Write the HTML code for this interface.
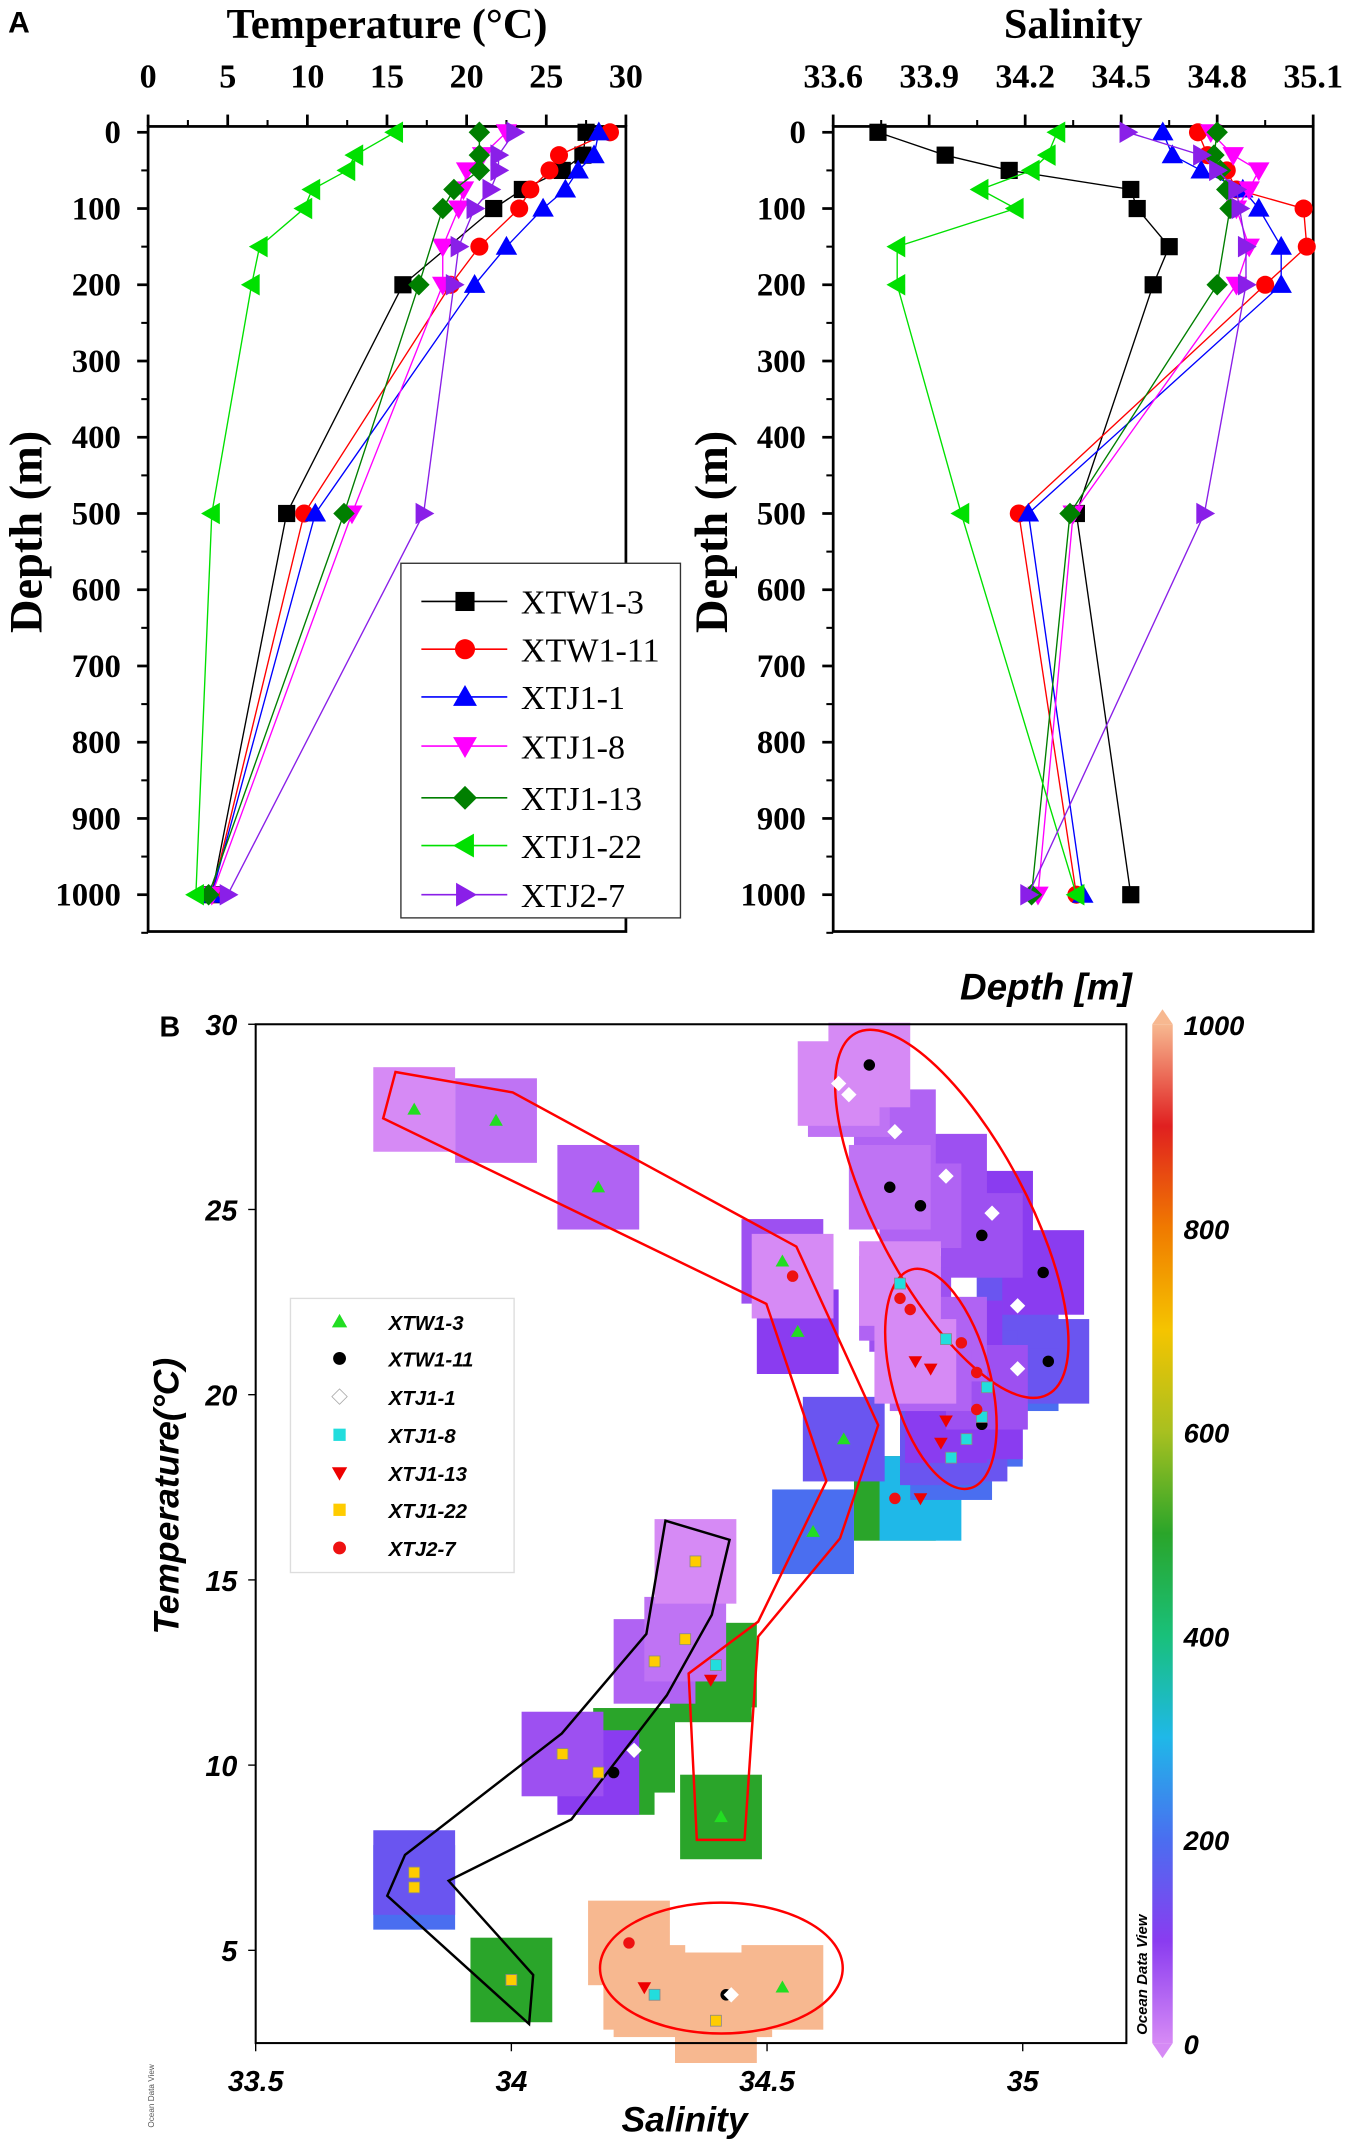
<!DOCTYPE html>
<html><head><meta charset="utf-8"><style>
html,body{margin:0;padding:0;background:#fff}
svg{display:block}
.serif{font-family:"Liberation Serif",serif;font-weight:bold}
.sans{font-family:"Liberation Sans",sans-serif;font-weight:bold;font-style:italic}
</style></head><body>
<svg id="fig" width="1350" height="2144" viewBox="0 0 990 1572" preserveAspectRatio="none" xmlns="http://www.w3.org/2000/svg">
<g id="pA"></g>
<g id="pB"></g>
</svg>
<script>
const depths=[0,30,50,75,100,150,200,500,1000];
const stations=["XTW1-3","XTW1-11","XTJ1-1","XTJ1-8","XTJ1-13","XTJ1-22","XTJ2-7"];
const tempXTW13=[27.5,27.3,26,23.5,21.7,null,16,8.7,4];
const tempXTW111=[29,25.8,25.2,24,23.3,20.8,19,9.8,4];
const tempXTJ11=[28.3,28,27,26.2,24.8,22.5,20.5,10.5,4];
const tempXTJ18=[22.5,21,20,19.8,19.5,18.5,18.5,12.8,4];
const tempXTJ113=[20.8,20.8,20.8,19.2,18.5,null,17,12.3,3.8];
const tempXTJ122=[15.5,13,12.5,10.3,9.8,7,6.5,4,3];
const tempXTJ27=[23,22,22,21.5,20.5,19.5,19.2,17.3,5];
const salXTW13=[33.74,33.95,34.15,34.53,34.55,34.65,34.6,34.36,34.53];
const salXTW111=[34.74,34.77,34.83,34.86,35.07,35.08,34.95,34.18,34.36];
const salXTJ11=[34.63,34.66,34.75,34.88,34.93,35.0,35.0,34.21,34.38];
const salXTJ18=[34.78,34.85,34.93,34.9,34.86,34.9,34.86,34.35,34.24];
const salXTJ113=[34.8,34.79,34.81,34.83,34.84,null,34.8,34.34,34.22];
const salXTJ122=[34.3,34.27,34.22,34.06,34.17,33.8,33.8,34.0,34.36];
const salXTJ27=[34.52,34.75,34.8,34.86,34.87,34.89,34.89,34.76,34.21];
const tempTicks=[0,5,10,15,20,25,30];
const salTicks=[33.6,33.9,34.2,34.5,34.8,35.1];
const depthTicks=[0,100,200,300,400,500,600,700,800,900,1000];

// Panel B T-S data
const tsSalXTW13=[33.81,33.97,34.17,34.53,34.56,34.65,34.59,34.41,34.53];
const tsTempXTW13=[27.7,27.4,25.6,23.6,21.7,18.8,16.3,8.6,4.0];
const tsDepXTW13=[0,30,50,75,100,150,200,500,1000];
const tsSalXTW111=[34.70,34.74,34.80,34.92,35.04,35.05,34.92,34.20,34.42];
const tsTempXTW111=[28.9,25.6,25.1,24.3,23.3,20.9,19.2,9.8,3.8];
const tsDepXTW111=[0,30,50,75,100,150,200,500,1000];
const tsSalXTJ11=[34.64,34.66,34.75,34.85,34.94,34.99,34.99,34.24,34.43];
const tsTempXTJ11=[28.4,28.1,27.1,25.9,24.9,22.4,20.7,10.4,3.8];
const tsDepXTJ11=[0,30,50,75,100,150,200,500,1000];
const tsSalXTJ18=[34.76,34.85,34.93,34.92,34.89,34.86,34.40,34.28];
const tsTempXTJ18=[23.0,21.5,20.2,19.4,18.8,18.3,12.7,3.8];
const tsDepXTJ18=[0,50,75,100,150,200,500,1000];
const tsSalXTJ113=[34.79,34.82,34.85,34.84,34.80,34.39,34.26];
const tsTempXTJ113=[20.9,20.7,19.3,18.7,17.2,12.3,4.0];
const tsDepXTJ113=[0,50,100,150,300,500,1000];
const tsSalXTJ122=[34.36,34.34,34.28,34.10,34.17,33.81,33.81,34.0,34.40];
const tsTempXTJ122=[15.5,13.4,12.8,10.3,9.8,7.1,6.7,4.2,3.1];
const tsDepXTJ122=[0,30,50,75,100,150,200,500,1000];
const tsSalXTJ27=[34.55,34.76,34.78,34.88,34.91,34.91,34.75,34.23];
const tsTempXTJ27=[23.2,22.6,22.3,21.4,20.6,19.6,17.2,5.2];
const tsDepXTJ27=[0,50,75,100,150,200,500,1000];
const bSalTicks=[33.5,34,34.5,35];
const bTempTicks=[5,10,15,20,25,30];
const cbTicks=[0,200,400,600,800,1000];

const NS="http://www.w3.org/2000/svg";
function mk(tag,attrs,parent,name){const e=document.createElementNS(NS,tag);for(const k in attrs)e.setAttribute(k,attrs[k]);


parent.appendChild(e);return e;}
function txt(s,x,y,attrs,parent,name){const e=mk('text',Object.assign({x:x,y:y},attrs),parent,name);e.textContent=s;return e;}

const A=document.getElementById('pA');
const colors=['#000000','#ff0000','#0000ff','#ff00ff','#007f00','#00e000','#8a1fe8'];
const shapes=['square','circle','up','down','diamond','left','right'];
function marker(shape,cx,cy,r,fill,parent,name,stroke){
  let e;
  if(shape==='square')e=mk('rect',{x:cx-r,y:cy-r,width:2*r,height:2*r,fill:fill},parent,name);
  else if(shape==='circle')e=mk('circle',{cx:cx,cy:cy,r:r*1.05,fill:fill},parent,name);
  else{let p;const R=r*1.25;
    if(shape==='up')p=[[cx,cy-R],[cx+R,cy+R*0.75],[cx-R,cy+R*0.75]];
    if(shape==='down')p=[[cx,cy+R],[cx+R,cy-R*0.75],[cx-R,cy-R*0.75]];
    if(shape==='left')p=[[cx-R,cy],[cx+R*0.75,cy-R],[cx+R*0.75,cy+R]];
    if(shape==='right')p=[[cx+R,cy],[cx-R*0.75,cy-R],[cx-R*0.75,cy+R]];
    if(shape==='diamond')p=[[cx,cy-R],[cx+R,cy],[cx,cy+R],[cx-R,cy]];
    e=mk('polygon',{points:p.map(q=>q.join(',')).join(' '),fill:fill},parent,name);}
  if(stroke){e.setAttribute('stroke',stroke);e.setAttribute('stroke-width','0.6');}
  return e;
}
const dy=d=>97+d*0.559;
function profilePanel(x0,x1,vmin,vmax,ticks,title,series,prefix,labelFmt){
  const sx=v=>x0+(v-vmin)/(vmax-vmin)*(x1-x0);
  const g=mk('g',{},A,prefix+'-profile');
  mk('rect',{x:x0,y:92.7,width:x1-x0,height:683-92.7,fill:'none',stroke:'#000','stroke-width':2},g,prefix+'-frame');
  ticks.forEach(t=>{mk('line',{x1:sx(t),x2:sx(t),y1:92.7,y2:84,stroke:'#000','stroke-width':2},g,prefix+'-x-tick');
    txt(labelFmt(t),sx(t),64,{'text-anchor':'middle','font-size':25,class:'serif'},g,prefix+'-x-tick-label');});
  for(let i=0;i<ticks.length-1;i++){const m=(ticks[i]+ticks[i+1])/2;mk('line',{x1:sx(m),x2:sx(m),y1:92.7,y2:88,stroke:'#000','stroke-width':1.5},g,prefix+'-x-minor-tick');}
  for(let d=0;d<=1050;d+=50){const major=d%100===0;mk('line',{x1:x0,x2:x0-(major?8:5),y1:dy(d),y2:dy(d),stroke:'#000','stroke-width':major?2:1.5},g,prefix+'-y-tick');}
  depthTicks.forEach(d=>txt(String(d),x0-20,dy(d)+8,{'text-anchor':'end','font-size':24,class:'serif'},g,prefix+'-y-tick-label'));
  txt(title,(x0+x1)/2,28,{'text-anchor':'middle','font-size':31,class:'serif'},g,prefix+'-title');
  txt('Depth (m)',0,0,{'text-anchor':'middle','font-size':34,class:'serif',transform:`translate(${x0-78},390) rotate(-90)`},g,prefix+'-y-axis-title');
  series.forEach((vals,si)=>{
    const pts=[];vals.forEach((v,i)=>{if(v!==null)pts.push([sx(v),dy(depths[i])]);});
    mk('polyline',{points:pts.map(p=>p.join(',')).join(' '),fill:'none',stroke:colors[si],'stroke-width':1},g,prefix+'-line-'+stations[si].toLowerCase());
    pts.forEach(p=>marker(shapes[si],p[0],p[1],6.3,colors[si],g,prefix+'-point-'+stations[si].toLowerCase()));
  });
}
txt('A',6,24,{'font-size':22,'font-family':'Liberation Sans, sans-serif','font-weight':'bold'},A,'panel-a-label');
profilePanel(108.6,459,0,30,tempTicks,'Temperature (°C)',[tempXTW13,tempXTW111,tempXTJ11,tempXTJ18,tempXTJ113,tempXTJ122,tempXTJ27],'temp',t=>String(t));
profilePanel(611,963,33.6,35.1,salTicks,'Salinity',[salXTW13,salXTW111,salXTJ11,salXTJ18,salXTJ113,salXTJ122,salXTJ27],'sal',t=>t.toFixed(1));
// legend A
const lg=mk('g',{},A,'temp-legend');
mk('rect',{x:294,y:413,width:205,height:260,fill:'#fff',stroke:'#333','stroke-width':1},lg,'legend-box');
const legY=[441,476,511,547,585,620,656];
stations.forEach((s,i)=>{mk('line',{x1:309,x2:372,y1:legY[i],y2:legY[i],stroke:colors[i],'stroke-width':1.2},lg,'legend-line');
  marker(shapes[i],341,legY[i],7,colors[i],lg,'legend-marker');
  txt(s,382,legY[i]+9,{'font-size':25,'font-family':'Liberation Serif, serif'},lg,'legend-entry');});

// Panel B
const B=document.getElementById('pB');
const bx=s=>187.5+(s-33.5)*375;
const by=t=>751+(30-t)*27.16;
const stops=[[0,[214,138,245]],[100,[138,60,240]],[200,[74,110,240]],[300,[31,184,232]],[400,[25,192,122]],[500,[42,165,42]],[600,[168,192,32]],[700,[245,196,0]],[800,[240,122,0]],[900,[224,32,32]],[1000,[247,184,144]]];
function dcol(d){for(let i=0;i<stops.length-1;i++){if(d<=stops[i+1][0]){const f=(d-stops[i][0])/(stops[i+1][0]-stops[i][0]);const c=stops[i][1].map((v,k)=>Math.round(v+f*(stops[i+1][1][k]-v)));return `rgb(${c.join(',')})`;}}return 'rgb(247,184,144)';}
const ts=[[tsSalXTW13,tsTempXTW13,tsDepXTW13],[tsSalXTW111,tsTempXTW111,tsDepXTW111],[tsSalXTJ11,tsTempXTJ11,tsDepXTJ11],[tsSalXTJ18,tsTempXTJ18,tsDepXTJ18],[tsSalXTJ113,tsTempXTJ113,tsDepXTJ113],[tsSalXTJ122,tsTempXTJ122,tsDepXTJ122],[tsSalXTJ27,tsTempXTJ27,tsDepXTJ27]];
const patches=mk('g',{},B,'depth-patches');
const all=[];ts.forEach((st,si)=>st[0].forEach((s,i)=>all.push([s,st[1][i],st[2][i],si])));
all.slice().sort((a,b)=>b[2]-a[2]).forEach(p=>{mk('rect',{x:bx(p[0])-30,y:by(p[1])-31,width:60,height:62,fill:dcol(p[2])},patches,'depth-patch');});
txt('B',117,760,{'font-size':21,'font-family':'Liberation Sans, sans-serif','font-weight':'bold'},B,'panel-b-label');
mk('rect',{x:187.5,y:751,width:638.5,height:747,fill:'none',stroke:'#000','stroke-width':1.5},B,'ts-frame');
bSalTicks.forEach(s=>{mk('line',{x1:bx(s),x2:bx(s),y1:1498,y2:1504,stroke:'#000'},B,'x-tick');
  txt(String(s),bx(s),1533,{'text-anchor':'middle','font-size':21,class:'sans'},B,'x-tick-label');});
bTempTicks.forEach(t=>{mk('line',{x1:187.5,x2:182,y1:by(t),y2:by(t),stroke:'#000'},B,'y-tick');
  txt(String(t),174,by(t)+8,{'text-anchor':'end','font-size':21,class:'sans'},B,'y-tick-label');});
txt('Salinity',502,1563,{'text-anchor':'middle','font-size':26,class:'sans'},B,'x-axis-title');
txt('Temperature(°C)',0,0,{'text-anchor':'middle','font-size':26,class:'sans',transform:'translate(131,1097) rotate(-90)'},B,'y-axis-title');
// annotations
mk('polygon',{points:'290,786 376,801 584,914 644,1045 616,1128 556,1200 546,1349 511,1349 505,1227 556,1189 606,1086 562,956 281,820',fill:'none',stroke:'#ff0000','stroke-width':1.8},B,'surface-water-outline');
mk('polygon',{points:'488,1115 535,1129 522,1184 489,1243 419,1334 329,1379 391,1448 388,1484 284,1390 297,1360 412,1271 474,1198',fill:'none',stroke:'#000','stroke-width':1.8},B,'xtj1-22-outline');
mk('ellipse',{cx:698,cy:890,rx:55,ry:150,transform:'rotate(-28 698 890)',fill:'none',stroke:'#ff0000','stroke-width':1.8},B,'upper-ellipse');
mk('ellipse',{cx:690,cy:1011,rx:36,ry:83,transform:'rotate(-15 690 1011)',fill:'none',stroke:'#ff0000','stroke-width':1.8},B,'middle-ellipse');
mk('ellipse',{cx:529,cy:1443,rx:89,ry:48,fill:'none',stroke:'#ff0000','stroke-width':1.8},B,'deep-ellipse');
// points
const bColors=['#22dd22','#000000','#ffffff','#22dddd','#ee0000','#ffcc00','#ee1111'];
const bShapes=['up','circle','diamond','square','down','square','circle'];
ts.forEach((st,si)=>st[0].forEach((s,i)=>{marker(bShapes[si],bx(s),by(st[1][i]),si===2?4.5:4,bColors[si],B,'ts-point-'+stations[si].toLowerCase(),(si===3||si===5)?'#888':null);}));
// legend B
const lb=mk('g',{},B,'ts-legend');
mk('rect',{x:213,y:952,width:164,height:201,fill:'#fff',stroke:'#ddd','stroke-width':1},lb,'legend-box');
const legYB=[969,996,1024,1052,1080,1107,1135];
stations.forEach((s,i)=>{marker(bShapes[i],249,legYB[i],4.5,bColors[i],lb,'legend-marker',i===2?'#aaa':null);
  txt(s,285,legYB[i]+6,{'font-size':15,class:'sans'},lb,'legend-entry');});
// colorbar
const defs=mk('defs',{},B,'defs');
const grad=mk('linearGradient',{id:'cb',x1:0,y1:1,x2:0,y2:0},defs,'colorbar-gradient');
stops.forEach(s=>mk('stop',{offset:s[0]/1000,'stop-color':`rgb(${s[1].join(',')})`},grad,'gradient-stop'));
mk('rect',{x:845,y:751,width:15,height:747,fill:'url(#cb)'},B,'colorbar');
mk('polygon',{points:'845,751 860,751 852.5,740',fill:'rgb(247,184,144)'},B,'colorbar-top-arrow');
mk('polygon',{points:'845,1498 860,1498 852.5,1509',fill:'rgb(214,138,245)'},B,'colorbar-bottom-arrow');
cbTicks.forEach(d=>txt(String(d),868,751+(1000-d)*0.747+8,{'font-size':20,class:'sans'},B,'colorbar-tick-label'));
txt('Depth [m]',830,733,{'text-anchor':'end','font-size':27,class:'sans'},B,'colorbar-title');
txt('Ocean Data View',0,0,{'font-size':11,class:'sans',transform:'translate(841,1492) rotate(-90)'},B,'odv-watermark');
txt('Ocean Data View',0,0,{'font-size':6,'font-family':'Liberation Sans, sans-serif',fill:'#555',transform:'translate(113,1560) rotate(-90)'},B,'odv-small-watermark');
</script>
</body></html>
